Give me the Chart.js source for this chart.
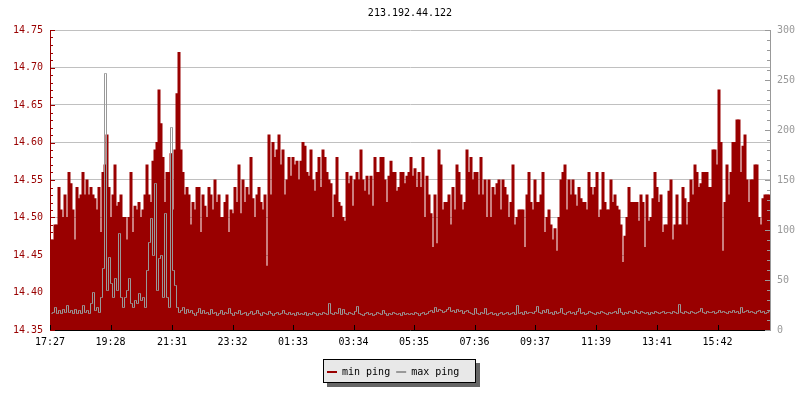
<!DOCTYPE html>
<html>
<head>
<meta charset="utf-8">
<title>213.192.44.122</title>
<script src="https://cdn.jsdelivr.net/npm/chart.js@4/dist/chart.umd.min.js"></script>
<style>
    html, body { margin: 0; padding: 0; background: #fff; }
</style>
</head>
<body>
<canvas id="pingChart" width="800" height="400"></canvas>
<script>
const hostName = "213.192.44.122";
const sampleMinutes = 4;

// x axis labels (clock time, one every ~2h)
const timeLabels = ["17:27", "19:28", "21:31", "23:32", "01:33", "03:34",
    "05:35", "07:36", "09:37", "11:39", "13:41", "15:42"];
const leftTicks = [14.35, 14.40, 14.45, 14.50, 14.55, 14.60, 14.65, 14.70, 14.75];
const rightTicks = [0, 50, 100, 150, 200, 250, 300];

// min ping (left axis, ms)
const minPing = [
    14.47, 14.47, 14.49, 14.49, 14.54, 14.51, 14.50, 14.53, 14.50, 14.56,
    14.545, 14.51, 14.47, 14.54, 14.525, 14.53, 14.56, 14.53, 14.55, 14.53,
    14.54, 14.53, 14.525, 14.51, 14.54, 14.48, 14.56, 14.57, 14.61, 14.54,
    14.50, 14.53, 14.57, 14.515, 14.52, 14.53, 14.50, 14.50, 14.47, 14.50,
    14.56, 14.48, 14.515, 14.51, 14.52, 14.50, 14.51, 14.53, 14.57, 14.53,
    14.52, 14.575, 14.59, 14.60, 14.67, 14.625, 14.58, 14.52, 14.56, 14.56,
    14.585, 14.51, 14.59, 14.665, 14.72, 14.59, 14.56, 14.53, 14.54, 14.53,
    14.49, 14.52, 14.51, 14.54, 14.54, 14.48, 14.53, 14.515, 14.50, 14.54,
    14.53, 14.51, 14.55, 14.52, 14.53, 14.50, 14.50, 14.52, 14.53, 14.48,
    14.51, 14.505, 14.54, 14.52, 14.57, 14.505, 14.55, 14.52, 14.54, 14.53,
    14.58, 14.525, 14.50, 14.53, 14.54, 14.52, 14.51, 14.53, 14.435, 14.61,
    14.53, 14.60, 14.58, 14.59, 14.61, 14.57, 14.59, 14.53, 14.55, 14.58,
    14.555, 14.58, 14.57, 14.575, 14.55, 14.575, 14.60, 14.595, 14.56, 14.555,
    14.59, 14.55, 14.535, 14.56, 14.58, 14.54, 14.59, 14.58, 14.56, 14.55,
    14.545, 14.50, 14.53, 14.58, 14.52, 14.515, 14.50, 14.495, 14.56, 14.545,
    14.555, 14.515, 14.55, 14.56, 14.55, 14.59, 14.55, 14.535, 14.555, 14.53,
    14.555, 14.515, 14.58, 14.56, 14.56, 14.58, 14.58, 14.55, 14.52, 14.555,
    14.575, 14.56, 14.56, 14.535, 14.54, 14.56, 14.56, 14.545, 14.555, 14.56,
    14.58, 14.555, 14.565, 14.54, 14.56, 14.54, 14.58, 14.50, 14.555, 14.53,
    14.505, 14.46, 14.53, 14.465, 14.59, 14.57, 14.51, 14.52, 14.52, 14.53,
    14.49, 14.54, 14.51, 14.57, 14.56, 14.53, 14.51, 14.52, 14.59, 14.56,
    14.58, 14.55, 14.56, 14.56, 14.53, 14.58, 14.53, 14.55, 14.50, 14.55,
    14.50, 14.54, 14.53, 14.545, 14.55, 14.51, 14.55, 14.54, 14.53, 14.50,
    14.52, 14.57, 14.49, 14.50, 14.51, 14.51, 14.51, 14.46, 14.53, 14.56,
    14.52, 14.51, 14.55, 14.52, 14.52, 14.53, 14.56, 14.48, 14.50, 14.51,
    14.49, 14.47, 14.485, 14.455, 14.50, 14.55, 14.56, 14.57, 14.51, 14.55,
    14.53, 14.55, 14.53, 14.515, 14.54, 14.525, 14.52, 14.52, 14.51, 14.56,
    14.54, 14.53, 14.54, 14.56, 14.50, 14.51, 14.56, 14.52, 14.51, 14.51,
    14.55, 14.52, 14.53, 14.515, 14.51, 14.49, 14.44, 14.475, 14.50, 14.54,
    14.52, 14.52, 14.52, 14.52, 14.495, 14.53, 14.52, 14.46, 14.53, 14.495,
    14.50, 14.525, 14.56, 14.54, 14.52, 14.53, 14.48, 14.49, 14.49, 14.535,
    14.55, 14.47, 14.49, 14.53, 14.49, 14.49, 14.54, 14.525, 14.49, 14.52,
    14.55, 14.53, 14.57, 14.56, 14.54, 14.545, 14.56, 14.56, 14.56, 14.54,
    14.54, 14.59, 14.59, 14.57, 14.67, 14.60, 14.455, 14.52, 14.57, 14.53,
    14.56, 14.60, 14.60, 14.63, 14.63, 14.56, 14.595, 14.61, 14.55, 14.52,
    14.55, 14.55, 14.57, 14.57, 14.50, 14.49, 14.525, 14.53, 14.53, 14.53
];

// max ping (right axis, ms)
const maxPing = [
    17, 18, 23, 17, 20, 17, 21, 18, 25, 18,
    20, 17, 21, 17, 20, 17, 25, 18, 20, 17,
    27, 38, 20, 23, 18, 33, 62, 257, 40, 73,
    47, 33, 52, 40, 97, 33, 23, 33, 40, 52,
    27, 23, 30, 27, 37, 30, 33, 23, 60, 88,
    112, 75, 147, 40, 72, 75, 33, 117, 33, 23,
    203, 60, 45, 23, 18, 20, 23, 17, 21, 18,
    20, 17, 15, 18, 22, 17, 20, 17, 18, 16,
    21, 17, 18, 15, 17, 20, 16, 18, 17, 22,
    17, 15, 18, 17, 20, 16, 17, 18, 15, 17,
    19, 16, 17, 20, 17, 15, 18, 17, 16, 19,
    17, 15, 17, 18, 16, 17, 20, 17, 16, 18,
    16, 17, 15, 18, 16, 17, 16, 18, 15, 17,
    16, 18, 17, 15, 17, 16, 18, 17, 16, 27,
    17, 16, 18, 17, 22, 16, 21, 17, 16, 18,
    17, 16, 19, 24, 17, 16, 15, 17, 18, 16,
    17, 15, 16, 18, 17, 16, 20, 17, 15, 17,
    16, 18, 17, 16, 17, 15, 18, 16, 17, 16,
    17, 16, 18, 17, 15, 17, 18, 16, 17, 19,
    20, 18, 23, 19, 21, 20, 18, 19, 21, 23,
    19, 20, 18, 21, 19, 20, 17, 19, 20, 18,
    17, 16, 22, 17, 16, 18, 17, 22, 16, 17,
    18, 16, 17, 15, 17, 18, 16, 17, 18, 16,
    17, 18, 16, 25, 17, 18, 16, 19, 17, 18,
    18, 17, 19, 24, 18, 17, 20, 18, 21, 17,
    18, 16, 19, 17, 18, 22, 17, 16, 18, 19,
    17, 18, 16, 19, 22, 17, 18, 16, 17, 19,
    18, 17, 16, 18, 17, 19, 18, 17, 16, 18,
    17, 18, 19, 17, 22, 18, 16, 18, 17, 19,
    18, 17, 20, 18, 17, 19, 18, 17, 18, 16,
    18, 17, 19, 18, 17, 18, 19, 17, 18, 18,
    17, 19, 18, 17, 26, 18, 17, 19, 18, 17,
    19, 18, 17, 18, 19, 22, 18, 17, 19, 18,
    18, 19, 17, 18, 20, 18, 19, 18, 17, 19,
    18, 20, 18, 19, 17, 23, 18, 19, 20, 18,
    19, 18, 17, 19, 20, 18, 19, 17, 18, 19
];

const RED = "#990000";
const GRAY = "#999999";
const FONT = "DejaVu Sans Mono";

Chart.defaults.font.family = FONT;
Chart.defaults.font.size = 10;

// minutes since the first label, wrapping past midnight
function toMinutes(label) {
    const [h, m] = label.split(":").map(Number);
    const [h0, m0] = timeLabels[0].split(":").map(Number);
    return ((h * 60 + m) - (h0 * 60 + m0) + 1440) % 1440;
}

const minPoints = minPing.map((v, i) => ({ x: (i + 0.5) * sampleMinutes, y: v }));
const maxPoints = maxPing.map((v, i) => ({ x: (i + 0.5) * sampleMinutes, y: v }));

// shift the 1px line by half a pixel so it lands on whole pixels
const crispLine = {
    id: "crispLine",
    beforeDatasetDraw(chart, args) {
        if (args.meta.type !== "line") return;
        chart.ctx.save();
        chart.ctx.translate(0.5, 0.5);
    },
    afterDatasetDraw(chart, args) {
        if (args.meta.type !== "line") return;
        chart.ctx.restore();
    }
};

// short tick marks drawn on the inside of the plot
const innerTicks = {
    id: "innerTicks",
    afterDatasetsDraw(chart) {
        const { ctx, chartArea: area, scales } = chart;
        ctx.save();
        ctx.lineWidth = 1;

        const seg = (x1, y1, x2, y2) => {
            ctx.beginPath();
            ctx.moveTo(x1, y1);
            ctx.lineTo(x2, y2);
            ctx.stroke();
        };

        const y = scales.y;
        ctx.strokeStyle = RED;
        const nLeft = Math.round((y.max - y.min) / 0.01);
        for (let k = 0; k <= nLeft; k++) {
            const py = Math.round(y.getPixelForValue(y.min + k * 0.01)) + 0.5;
            seg(area.left, py, area.left + (k % 5 === 0 ? 5 : 3), py);
        }

        const y1 = scales.y1;
        ctx.strokeStyle = GRAY;
        for (let v = y1.min; v <= y1.max; v += 10) {
            const py = Math.round(y1.getPixelForValue(v)) + 0.5;
            seg(area.right - (v % 50 === 0 ? 5 : 3), py, area.right, py);
        }

        ctx.strokeStyle = "#000";
        scales.x.ticks.forEach(t => {
            const px = Math.round(scales.x.getPixelForValue(t.value)) + 0.5;
            seg(px, area.bottom - 5, px, area.bottom);
        });
        ctx.restore();
    }
};

// legend in a grey box with a drop shadow
const boxedLegend = {
    id: "boxedLegend",
    afterDraw(chart) {
        const ctx = chart.ctx;
        const left = 323, top = 359, w = 153, h = 24;
        ctx.save();
        ctx.fillStyle = "#666";
        ctx.fillRect(left + 4, top + 4, w, h);
        ctx.fillStyle = "#e8e8e8";
        ctx.fillRect(left, top, w, h);
        ctx.strokeStyle = "#000";
        ctx.lineWidth = 1;
        ctx.strokeRect(left + 0.5, top + 0.5, w - 1, h - 1);

        ctx.font = `10px "${FONT}"`;
        ctx.textBaseline = "middle";
        ctx.textAlign = "left";
        const midY = top + 13;
        let x = left + 4;
        chart.data.datasets.forEach(ds => {
            ctx.fillStyle = ds.legendColor;
            ctx.fillRect(x, midY - 1, 10, 2);
            ctx.fillStyle = "#000";
            ctx.fillText(ds.label, x + 15, midY);
            x += 15 + ctx.measureText(ds.label).width + 6;
        });
        ctx.restore();
    }
};

new Chart(document.getElementById("pingChart"), {
    type: "bar",
    data: {
        datasets: [
            {
                label: "min ping",
                data: minPoints,
                yAxisID: "y",
                backgroundColor: RED,
                legendColor: RED,
                borderWidth: 0,
                barPercentage: 1,
                categoryPercentage: 1,
                inflateAmount: 0.5,
                order: 1
            },
            {
                type: "line",
                label: "max ping",
                data: maxPoints,
                yAxisID: "y1",
                borderColor: GRAY,
                legendColor: GRAY,
                borderWidth: 1,
                pointRadius: 0,
                stepped: "middle",
                fill: false,
                order: 0
            }
        ]
    },
    options: {
        responsive: false,
        animation: false,
        layout: { padding: { left: 0, right: 0, top: 0, bottom: 50 } },
        plugins: {
            legend: { display: false },
            tooltip: { enabled: false },
            title: {
                display: true,
                text: hostName,
                color: "#000",
                fullSize: false,
                font: { family: FONT, size: 10, weight: "normal" },
                padding: { top: 7, bottom: 11 }
            }
        },
        scales: {
            x: {
                type: "linear",
                offset: false,
                min: 0,
                max: sampleMinutes * minPing.length,
                afterFit: scale => { scale.height = 20; },
                afterBuildTicks: scale => {
                    scale.ticks = timeLabels.map(l => ({ value: toMinutes(l) }));
                },
                grid: { display: false, drawTicks: false, offset: false },
                border: { display: true, color: "#000", width: 1 },
                ticks: {
                    color: "#000",
                    padding: 6,
                    autoSkip: false,
                    maxRotation: 0,
                    callback: (value, index) => timeLabels[index]
                }
            },
            y: {
                position: "left",
                min: leftTicks[0],
                max: leftTicks[leftTicks.length - 1],
                afterFit: scale => { scale.width = 50; },
                afterBuildTicks: scale => {
                    scale.ticks = leftTicks.map(v => ({ value: v }));
                },
                grid: { color: "#c0c0c0", drawTicks: false },
                border: { display: true, color: RED, width: 1 },
                ticks: {
                    color: RED,
                    padding: 7,
                    callback: v => v.toFixed(2)
                }
            },
            y1: {
                position: "right",
                min: rightTicks[0],
                max: rightTicks[rightTicks.length - 1],
                afterFit: scale => { scale.width = 30; },
                afterBuildTicks: scale => {
                    scale.ticks = rightTicks.map(v => ({ value: v }));
                },
                grid: { drawOnChartArea: false, drawTicks: false },
                border: { display: true, color: GRAY, width: 1 },
                ticks: {
                    color: GRAY,
                    padding: 7,
                    callback: v => String(v)
                }
            }
        }
    },
    plugins: [crispLine, innerTicks, boxedLegend]
});
</script>
</body>
</html>
